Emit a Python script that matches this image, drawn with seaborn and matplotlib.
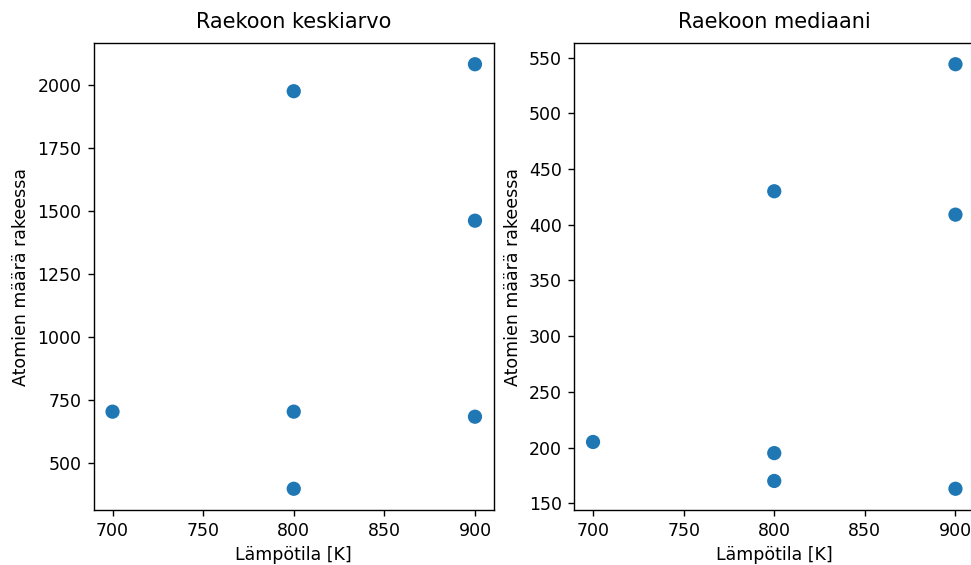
import matplotlib
matplotlib.use("Agg")
import matplotlib.pyplot as plt
import seaborn as sns
import pandas as pd

# Data
temps = [700, 800, 800, 800, 900, 900, 900]
mean_sizes = [702, 1974, 702, 396, 2081, 1460, 682]
median_sizes = [205, 430, 195, 170, 544, 409, 163]

titles = ["Raekoon keskiarvo", "Raekoon mediaani"]
xlabel = "Lämpötila [K]"
ylabel = "Atomien määrä rakeessa"
xticks = [700, 750, 800, 850, 900]

plt.rcParams["font.family"] = ["DejaVu Sans"]
plt.rcParams["text.color"] = "black"
plt.rcParams["axes.labelcolor"] = "black"

df = pd.DataFrame({"T": temps, "mean": mean_sizes, "median": median_sizes})

W, H = 971, 565
fig = plt.figure(figsize=(W / 100, H / 100), dpi=100)
ax1 = fig.add_axes([93.5 / W, (H - 510) / H, 400.5 / W, 467 / H])
ax2 = fig.add_axes([574 / W, (H - 510) / H, 400.5 / W, 467 / H])

for ax, col, title in [(ax1, "mean", titles[0]), (ax2, "median", titles[1])]:
    sns.scatterplot(data=df, x="T", y=col, ax=ax, color="#1f77b4", s=105,
                    linewidth=0, edgecolor="none")
    ax.set_title(title, fontsize=15, color="black", pad=10.5)
    ax.set_xlabel(xlabel, fontsize=12.5, labelpad=4)
    ax.set_ylabel(ylabel, fontsize=12.5, labelpad=5)
    ax.set_xticks(xticks)
    ax.tick_params(labelsize=12.5, length=4.4, width=1, pad=4.4,
                   colors="black")
    for s in ax.spines.values():
        s.set_visible(True)
        s.set_color("black")
        s.set_linewidth(1)
    ax.set_xlim(689.5, 910.5)

fig.savefig("out.png", dpi=100)
